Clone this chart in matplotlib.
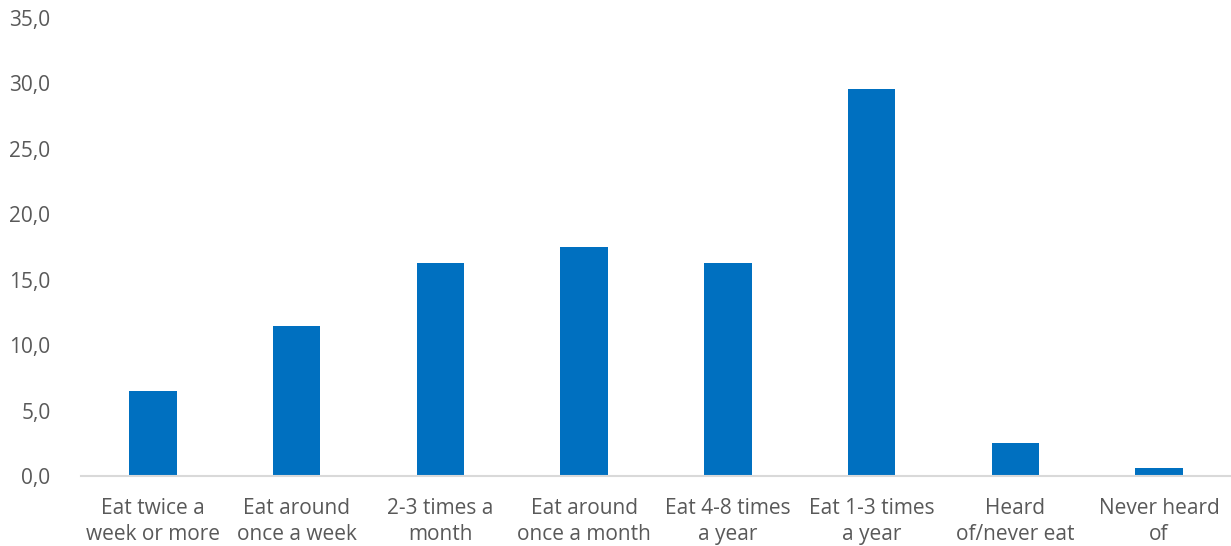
import matplotlib
matplotlib.use("Agg")
import matplotlib.pyplot as plt
from matplotlib.ticker import FuncFormatter

categories = [
    "Eat twice a\nweek or more",
    "Eat around\nonce a week",
    "2-3 times a\nmonth",
    "Eat around\nonce a month",
    "Eat 4-8 times\na year",
    "Eat 1-3 times\na year",
    "Heard\nof/never eat",
    "Never heard\nof",
]
values = [6.5, 11.5, 16.3, 17.5, 16.3, 29.6, 2.5, 0.6]
y_ticks = [0, 5, 10, 15, 20, 25, 30, 35]

plt.rcParams["font.family"] = ["Open Sans", "DejaVu Sans"]
text_color = "#595959"

fig = plt.figure(figsize=(12.31, 5.46), dpi=100)
ax = fig.add_axes([81 / 1231, 1 - 476 / 546, 1 - 81 / 1231, (476 - 18) / 546])

x = range(len(categories))
ax.bar(x, values, width=0.33, color="#0070C0", zorder=2)

ax.set_xlim(-0.5, len(categories) - 0.5)
ax.set_ylim(0, 35)
ax.set_yticks(y_ticks)
ax.yaxis.set_major_formatter(FuncFormatter(lambda v, _: f"{v:.1f}".replace(".", ",")))
ax.set_xticks(list(x))
ax.set_xticklabels(categories, linespacing=1.32)

for side in ["top", "right", "left"]:
    ax.spines[side].set_visible(False)
ax.spines["bottom"].set_color("#d9d9d9")
ax.spines["bottom"].set_linewidth(1.5)

ax.tick_params(axis="both", length=0, labelsize=15, colors=text_color)
ax.tick_params(axis="x", pad=16)
ax.tick_params(axis="y", pad=22)

fig.savefig("out.png", dpi=100)
